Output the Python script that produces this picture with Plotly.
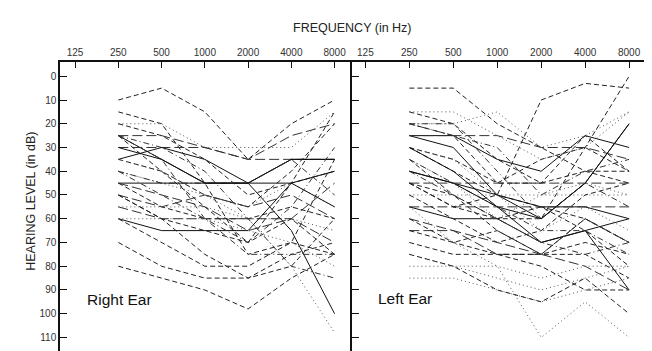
import plotly.graph_objects as go

freqs = [250, 500, 1000, 2000, 4000, 8000]
tick_freqs = [125, 250, 500, 1000, 2000, 4000, 8000]
tick_labels = ["125", "250", "500", "1000", "2000", "4000", "8000"]
db_ticks = [0, 10, 20, 30, 40, 50, 60, 70, 80, 90, 100, 110]

# Right ear audiograms (dB HL at 250..8000 Hz) and line style
right_ear = [
    ([10, 5, 15, 35, 20, 10], "dash"),
    ([15, 20, 45, 75, 70, 35], "dash"),
    ([20, 20, 30, 30, 30, 15], "dot"),
    ([25, 25, 30, 35, 35, 35], "longdash"),
    ([25, 35, 45, 45, 35, 35], "solid"),
    ([25, 40, 55, 70, 45, 40], "dash"),
    ([25, 30, 40, 60, 80, 85], "dashdot"),
    ([30, 30, 30, 35, 25, 20], "longdash"),
    ([35, 30, 35, 45, 35, 35], "solid"),
    ([35, 40, 50, 55, 40, 20], "dash"),
    ([40, 45, 50, 55, 45, 55], "dot"),
    ([40, 45, 45, 45, 35, 50], "dashdot"),
    ([45, 45, 45, 45, 45, 55], "solid"),
    ([45, 50, 55, 65, 60, 45], "longdash"),
    ([45, 55, 60, 60, 55, 60], "dash"),
    ([50, 55, 50, 55, 50, 60], "longdash"),
    ([50, 60, 65, 70, 60, 75], "dash"),
    ([55, 55, 55, 60, 60, 65], "dot"),
    ([55, 60, 60, 60, 60, 70], "longdash"),
    ([60, 65, 65, 65, 45, 40], "solid"),
    ([60, 70, 80, 80, 70, 75], "dash"),
    ([60, 60, 60, 65, 70, 80], "dot"),
    ([80, 85, 90, 98, 85, 75], "dash"),
    ([70, 80, 85, 85, 75, 70], "dash"),
    ([30, 35, 45, 45, 65, 100], "solid"),
    ([35, 40, 50, 60, 80, 108], "dot"),
    ([40, 50, 60, 70, 55, 30], "dashdot"),
    ([50, 60, 75, 85, 80, 60], "dash"),
    ([25, 35, 60, 75, 75, 75], "dashdot"),
    ([20, 25, 35, 50, 45, 15], "dash"),
]

# Left ear audiograms
left_ear = [
    ([5, 5, 20, 30, 40, 45], "dash"),
    ([15, 20, 35, 45, 40, 40], "dash"),
    ([20, 20, 15, 30, 25, 15], "dot"),
    ([20, 20, 40, 60, 45, 55], "dashdot"),
    ([25, 25, 35, 40, 25, 30], "solid"),
    ([25, 30, 50, 60, 45, 20], "solid"),
    ([25, 25, 25, 30, 30, 35], "longdash"),
    ([30, 35, 45, 35, 30, 40], "dash"),
    ([30, 40, 50, 55, 60, 70], "dash"),
    ([30, 40, 55, 70, 65, 60], "solid"),
    ([35, 45, 55, 65, 65, 75], "dashdot"),
    ([45, 55, 50, 10, 3, 5], "dash"),
    ([40, 45, 50, 55, 55, 60], "solid"),
    ([40, 45, 55, 60, 45, 20], "solid"),
    ([45, 45, 45, 45, 45, 45], "longdash"),
    ([50, 50, 50, 50, 50, 50], "dot"),
    ([55, 55, 55, 55, 55, 55], "longdash"),
    ([55, 60, 60, 70, 65, 90], "solid"),
    ([60, 65, 75, 75, 80, 90], "longdash"),
    ([65, 70, 65, 75, 70, 75], "dash"),
    ([70, 75, 75, 75, 75, 85], "dash"),
    ([75, 80, 80, 85, 80, 80], "dot"),
    ([80, 80, 85, 90, 85, 80], "dot"),
    ([85, 85, 90, 95, 90, 85], "dot"),
    ([75, 80, 90, 95, 85, 100], "dash"),
    ([55, 70, 80, 110, 95, 110], "dot"),
    ([35, 50, 60, 60, 30, 0], "dash"),
    ([15, 15, 25, 35, 30, 15], "dot"),
    ([20, 25, 45, 45, 25, 40], "dash"),
    ([45, 50, 65, 75, 60, 70], "dash"),
    ([40, 50, 60, 70, 75, 70], "dashdot"),
    ([30, 35, 50, 65, 55, 65], "dot"),
    ([50, 60, 70, 65, 50, 45], "dash"),
    ([60, 70, 75, 80, 90, 90], "dash"),
    ([35, 45, 60, 50, 45, 50], "dot"),
    ([65, 65, 70, 75, 60, 70], "longdash"),
    ([20, 25, 30, 50, 40, 35], "dashdot"),
    ([45, 55, 60, 55, 65, 80], "dash"),
]

DASH = {
    "solid": "solid",
    "dash": "5px,3px",
    "longdash": "10px,4px",
    "dot": "1px,3px",
    "dashdot": "6px,3px,1px,3px",
}
COLOR = {"solid": "#111", "dash": "#222", "longdash": "#333", "dot": "#555", "dashdot": "#333"}

fig = go.Figure()
for vals, style in right_ear:
    fig.add_trace(go.Scatter(x=freqs, y=vals, mode="lines", xaxis="x", yaxis="y",
                             line=dict(color=COLOR[style], width=1, dash=DASH[style]),
                             showlegend=False, hoverinfo="skip"))
for vals, style in left_ear:
    fig.add_trace(go.Scatter(x=freqs, y=vals, mode="lines", xaxis="x2", yaxis="y2",
                             line=dict(color=COLOR[style], width=1, dash=DASH[style]),
                             showlegend=False, hoverinfo="skip"))

# page body has an 8px margin: work in window coordinates, then subtract it
OFF = 8
W, H = 652 - OFF, 351 - OFF
L, R, T, B = 59.5 - OFF, 644 - OFF, 61.5 - OFF, 351 - OFF
pw = R - L
split = (352 - OFF - L) / pw

FAM = "Liberation Sans, Arial, sans-serif"
font = dict(family=FAM, size=10, color="#333")
xcommon = dict(type="log", side="top", tickvals=tick_freqs, ticktext=tick_labels,
               ticks="inside", ticklen=6, tickwidth=1, tickcolor="#111",
               showline=True, linecolor="#111", linewidth=1.5, showgrid=False,
               zeroline=False, tickfont=font, automargin=False)
ycommon = dict(range=[115.7, -6], tickvals=db_ticks, ticks="inside", ticklen=7,
               tickwidth=1, tickcolor="#111", showline=True, linecolor="#111",
               linewidth=1.5, showgrid=False, zeroline=False, tickfont=font,
               automargin=False)

fig.update_layout(
    width=W, height=H,
    margin=dict(l=L, r=W - R, t=T, b=H - B, pad=0, autoexpand=False),
    paper_bgcolor="white", plot_bgcolor="white",
    xaxis=dict(xcommon, domain=[0, split], range=[1.992, 4.026], anchor="y"),
    xaxis2=dict(xcommon, domain=[split, 1], range=[2.007, 4.005], anchor="y2"),
    yaxis=dict(ycommon, domain=[0, 1], anchor="x"),
    yaxis2=dict(ycommon, domain=[0, 1], anchor="x2", showticklabels=False, mirror=True),
)

ph = B - T
def px(x):
    return (x - OFF - L) / pw
def py(y):
    return (B - (y - OFF)) / ph

fig.add_annotation(text="FREQUENCY (in Hz)", x=px(352), y=py(18), xref="paper", yref="paper",
                   showarrow=False, font=dict(family=FAM, size=12.5, color="#222"))
fig.add_annotation(text="HEARING LEVEL (in dB)", x=px(22), y=py(201), xref="paper", yref="paper",
                   showarrow=False, textangle=-90,
                   font=dict(family=FAM, size=12.5, color="#222"))
fig.add_annotation(text="Right Ear", x=px(85), y=py(310), xref="paper", yref="paper",
                   xanchor="left", showarrow=False,
                   font=dict(family=FAM, size=15.5, color="#111"))
fig.add_annotation(text="Left Ear", x=px(376), y=py(309), xref="paper", yref="paper",
                   xanchor="left", showarrow=False,
                   font=dict(family=FAM, size=15.5, color="#111"))

fig.write_html("out.html")
